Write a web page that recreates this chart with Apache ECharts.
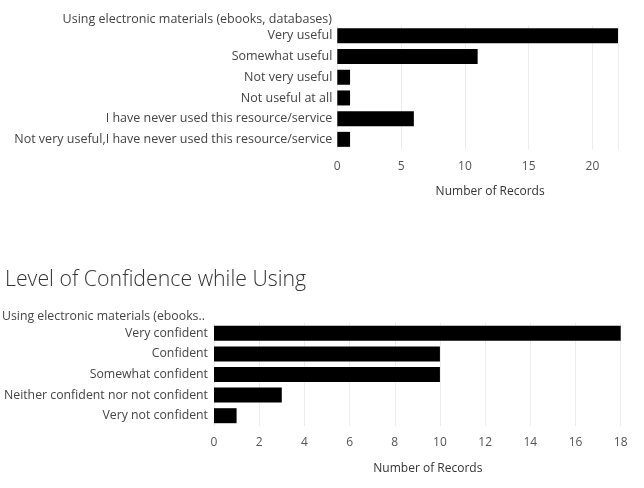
<!DOCTYPE html>
<html>
<head>
<meta charset="utf-8">
<script src="https://cdn.jsdelivr.net/npm/echarts@6/dist/echarts.min.js"></script>
<style>html,body{margin:0;padding:0;background:#fff;}#c{width:644px;height:488px;}</style>
</head>
<body>
<div id="c"></div>
<script>
var usefulCategories = ["Very useful", "Somewhat useful", "Not very useful", "Not useful at all", "I have never used this resource/service", "Not very useful,I have never used this resource/service"];
var usefulValues = [22, 11, 1, 1, 6, 1];
var confidenceCategories = ["Very confident", "Confident", "Somewhat confident", "Neither confident nor not confident", "Very not confident"];
var confidenceValues = [18, 10, 10, 3, 1];
var topHeader = "Using electronic materials (ebooks, databases)";
var bottomTitle = "Level of Confidence while Using";
var bottomHeader = "Using electronic materials (ebooks..";
var axisTitle = "Number of Records";

var FONT = "Open Sans";
var chart = echarts.init(document.getElementById('c'));
chart.setOption({
  backgroundColor: '#fff',
  animation: false,
  textStyle: { fontFamily: FONT },
  title: [
    { text: topHeader, right: 312, top: 12.5, padding: 0,
      textStyle: { fontFamily: FONT, fontSize: 12.5, fontWeight: 'normal', color: '#444' } },
    { text: bottomTitle, left: 5, top: 269, padding: 0,
      textStyle: { fontFamily: FONT, fontSize: 21.3, fontWeight: 300, color: '#333' } },
    { text: bottomHeader, left: 2, top: 310.5, padding: 0,
      textStyle: { fontFamily: FONT, fontSize: 12.3, fontWeight: 'normal', color: '#444' } }
  ],
  grid: [
    { left: 337.3, right: 26, top: 25.5, height: 124.2, containLabel: false },
    { left: 214, right: 23.3, top: 323, height: 103, containLabel: false }
  ],
  xAxis: [
    { gridIndex: 0, type: 'value', min: 0, max: 22, interval: 5,
      axisLine: { show: false }, axisTick: { show: false },
      splitLine: { lineStyle: { color: '#ececec', width: 1 } },
      axisLabel: { showMaxLabel: false, margin: 11, fontSize: 12, color: '#555', fontFamily: FONT },
      name: axisTitle, nameLocation: 'middle', nameGap: 36,
      nameTextStyle: { fontSize: 12, color: '#333', fontFamily: FONT, padding: [0, 0, 0, 25] } },
    { gridIndex: 1, type: 'value', min: 0, max: 18, interval: 2,
      axisLine: { show: false }, axisTick: { show: false },
      splitLine: { lineStyle: { color: '#ececec', width: 1 } },
      axisLabel: { margin: 11, fontSize: 12, color: '#555', fontFamily: FONT },
      name: axisTitle, nameLocation: 'middle', nameGap: 36.5,
      nameTextStyle: { fontSize: 12, color: '#333', fontFamily: FONT, padding: [0, 0, 0, 21] } }
  ],
  yAxis: [
    { gridIndex: 0, type: 'category', data: usefulCategories, inverse: true,
      axisLine: { show: false }, axisTick: { show: false },
      axisLabel: { margin: 5, fontSize: 12.5, color: '#444', fontFamily: FONT, padding: [3, 0, 0, 0] } },
    { gridIndex: 1, type: 'category', data: confidenceCategories, inverse: true,
      axisLine: { show: false }, axisTick: { show: false },
      axisLabel: { margin: 6, fontSize: 12.3, color: '#444', fontFamily: FONT, padding: [2, 0, 0, 0] } }
  ],
  series: [
    { type: 'bar', xAxisIndex: 0, yAxisIndex: 0, data: usefulValues, barWidth: 15,
      itemStyle: { color: '#000' } },
    { type: 'bar', xAxisIndex: 1, yAxisIndex: 1, data: confidenceValues, barWidth: 15,
      itemStyle: { color: '#000' } }
  ]
});
</script>
</body>
</html>
